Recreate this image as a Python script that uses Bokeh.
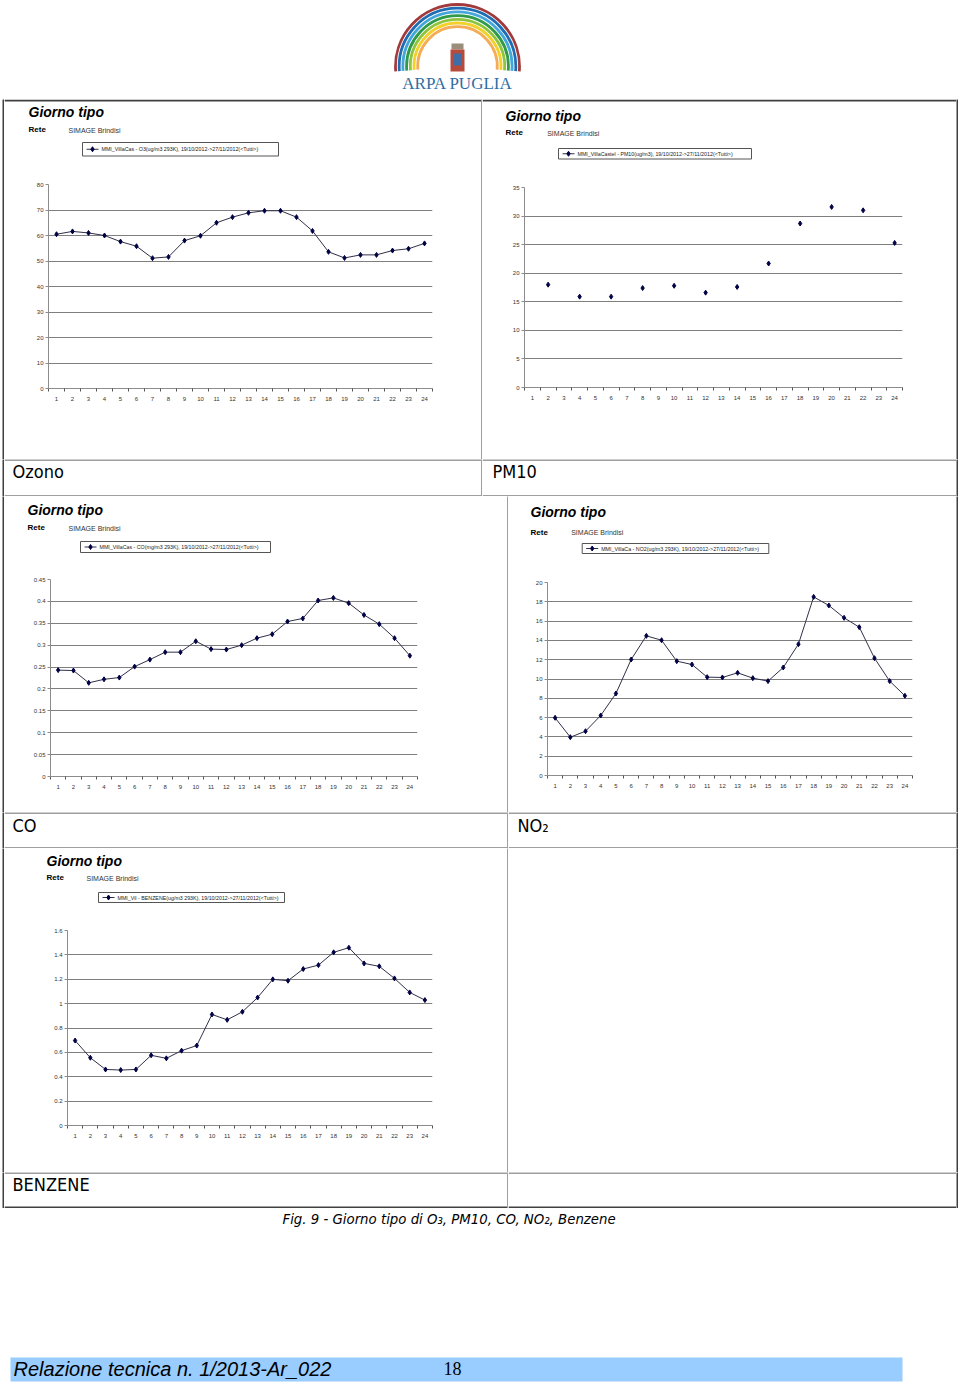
import math
from bokeh.plotting import figure
from bokeh.layouts import column, row
from bokeh.models import Range1d, FixedTicker, NumeralTickFormatter
from bokeh.embed import file_html
from bokeh.resources import INLINE
from bokeh.core.properties import value

# ---------------- data ----------------
hours = list(range(1, 25))
ozone_values = [60.5, 61.6, 61.0, 60.0, 57.6, 55.8, 51.1, 51.6, 58.0, 59.9, 65.0, 67.2,
                68.9, 69.7, 69.7, 67.2, 61.8, 53.6, 51.2, 52.4, 52.4, 54.1, 54.8, 56.9]
pm10_hours = [2, 4, 6, 8, 10, 12, 14, 16, 18, 20, 22, 24]
pm10_values = [18.0, 15.9, 15.9, 17.4, 17.8, 16.6, 17.6, 21.7, 28.7, 31.6, 31.0, 25.3]
co_values = [0.243, 0.242, 0.214, 0.222, 0.226, 0.251, 0.267, 0.284, 0.284, 0.309, 0.291, 0.290,
             0.300, 0.316, 0.325, 0.354, 0.361, 0.402, 0.408, 0.396, 0.369, 0.348, 0.316, 0.276]
no2_values = [5.98, 3.97, 4.59, 6.22, 8.50, 12.02, 14.47, 14.02, 11.85, 11.50, 10.19, 10.16,
              10.64, 10.09, 9.78, 11.19, 13.61, 18.51, 17.62, 16.34, 15.37, 12.16, 9.78, 8.26]
benzene_values = [0.697, 0.556, 0.460, 0.455, 0.460, 0.576, 0.551, 0.614, 0.656, 0.911, 0.867, 0.933,
                  1.050, 1.199, 1.188, 1.284, 1.316, 1.421, 1.459, 1.330, 1.306, 1.207, 1.092, 1.029]

ozone_yticks = [0, 10, 20, 30, 40, 50, 60, 70, 80]
pm10_yticks = [0, 5, 10, 15, 20, 25, 30, 35]
co_yticks = [0, 0.05, 0.1, 0.15, 0.2, 0.25, 0.3, 0.35, 0.4, 0.45]
no2_yticks = [0, 2, 4, 6, 8, 10, 12, 14, 16, 18, 20]
benzene_yticks = [0, 0.2, 0.4, 0.6, 0.8, 1, 1.2, 1.4, 1.6]

legend_ozone = "MMI_VillaCas - O3(ug/m3 293K), 19/10/2012->27/11/2012(<Tutti>)"
legend_pm10 = "MMI_VillaCastel - PM10(ug/m3), 19/10/2012->27/11/2012(<Tutti>)"
legend_co = "MMI_VillaCas - CO(mg/m3 293K), 19/10/2012->27/11/2012(<Tutti>)"
legend_no2 = "MMI_VillaCa - NO2(ug/m3 293K), 19/10/2012->27/11/2012(<Tutti>)"
legend_benzene = "MMI_Vil - BENZENE(ug/m3 293K), 19/10/2012->27/11/2012(<Tutti>)"

cell_labels = ["Ozono", "PM10", "CO", "NO\u2082", "BENZENE"]
caption = "Fig. 9 -  Giorno tipo di O\u2083, PM10, CO, NO\u2082, Benzene"
footer = "Relazione tecnica n. 1/2013-Ar_022"
page_number = "18"

# ---------------- styles ----------------
LINE = "#404040"
SANS = "Liberation Sans"
COND = "DejaVu Sans Condensed"
SERIF = "Liberation Serif"
SERIES_LINE = "#30304a"
SERIES_MARK = "#000045"
GRID = "#7f7f7f"
AXIS = "#8c8c8c"
BASE_K = 0.42  # baseline correction of the renderer, as a fraction of the font size


def noalign(f):
    try:
        f.frame_align = False
    except Exception:
        pass
    return f


def by(y, fs):
    """Anchor y for a text whose baseline should sit at y."""
    return y - BASE_K * fs


def blank(w, h, color="white", xr=None, yr=None):
    f = figure(width=w, height=h, toolbar_location=None, output_backend="svg",
               min_border=0, x_axis_location=None, y_axis_location=None,
               x_range=xr if xr is not None else Range1d(0, w),
               y_range=yr if yr is not None else Range1d(h, 0),
               background_fill_color=color, border_fill_color=color,
               outline_line_color=None)
    f.xgrid.visible = False
    f.ygrid.visible = False
    return noalign(f)


def bar(w, h):
    return blank(w, h, color=LINE)


def hline(f, w, y0, y1):
    f.quad(left=[0], right=[w], top=[y0], bottom=[y1], fill_color=LINE, line_color=None)


def txt(f, x, y, s, font, fs, style="normal", color="black", align="left"):
    f.text(x=[x], y=[by(y, fs)], text=[s], text_font=value(font), text_font_size=f"{fs}px",
           text_font_style=style, text_color=color, text_align=align, text_baseline="alphabetic")


def header(w, h, gx, gy, ry, sx, box, label, top_line=0):
    f = blank(w, h)
    if top_line:
        hline(f, w, 0, top_line)
    txt(f, gx, gy, "Giorno tipo", SANS, 14, "bold italic")
    txt(f, gx, ry, "Rete", SANS, 8, "bold")
    txt(f, sx, ry, "SIMAGE Brindisi", SANS, 7, color="#333333")
    l, r, t, b = box
    f.quad(left=[l], right=[r], top=[t], bottom=[b], fill_color="white", line_color="#555555", line_width=1)
    ym = (t + b) / 2
    f.line([l + 4, l + 16], [ym, ym], line_color=SERIES_LINE, line_width=1)
    f.scatter([l + 10], [ym], marker="diamond", size=5, fill_color=SERIES_MARK, line_color=SERIES_MARK)
    f.text(x=[l + 19], y=[ym], text=[label], text_font=value(SANS), text_font_size="5.3px",
           text_color="#222222", text_baseline="middle")
    return f


def chart(w, h, L, R, T, B, yticks, xs, ys, connect=True):
    p = figure(width=w, height=h, toolbar_location=None, output_backend="svg",
               min_border_left=L, min_border_right=R, min_border_top=T, min_border_bottom=B,
               x_range=Range1d(0.5, 24.5), y_range=Range1d(yticks[0], yticks[-1]),
               background_fill_color="white", border_fill_color="white", outline_line_color=None)
    noalign(p)
    p.xgrid.visible = False
    p.ygrid.grid_line_color = GRID
    p.ygrid.grid_line_width = 1
    p.yaxis.ticker = FixedTicker(ticks=yticks)
    p.yaxis.formatter = NumeralTickFormatter(format="0.[00]")
    p.xaxis.ticker = FixedTicker(ticks=hours, minor_ticks=[hh - 0.5 for hh in hours] + [24.5])
    for ax in (p.xaxis[0], p.yaxis[0]):
        ax.axis_line_color = AXIS
        ax.axis_line_width = 1
        ax.major_label_text_font = SANS
        ax.major_label_text_font_size = "6px"
        ax.major_label_text_color = "#333333"
    p.yaxis.major_tick_in = 0
    p.yaxis.major_tick_out = 3
    p.yaxis.major_tick_line_color = AXIS
    p.yaxis.minor_tick_line_color = None
    p.yaxis.major_label_standoff = 2
    p.xaxis.major_tick_in = 0
    p.xaxis.major_tick_out = 0
    p.xaxis.major_tick_line_color = None
    p.xaxis.minor_tick_in = 0
    p.xaxis.minor_tick_out = 3
    p.xaxis.minor_tick_line_color = "#555555"
    p.xaxis.major_label_standoff = 5
    if connect:
        p.line(xs, ys, line_color=SERIES_LINE, line_width=1)
    p.scatter(xs, ys, marker="diamond", size=5, fill_color=SERIES_MARK, line_color=SERIES_MARK)
    return p


def label_cell(w, h, x, y, s, bottom_line=1):
    f = blank(w, h)
    hline(f, w, 0, 1)
    hline(f, w, h - bottom_line, h)
    if s:
        txt(f, x, y, s, COND, 18)
    return f


# ---------------- logo (y measured upward from the logo's bottom edge) ----------------
logo = blank(960, 99, xr=Range1d(0, 960), yr=Range1d(0, 99))
arc_radii = [62, 58.3, 54.6, 50.9, 47.2, 43.5, 39.8]
arc_colors = ["#a23a3c", "#1f6db3", "#45a6dc", "#2f9a48", "#8fc43f", "#f2d12b", "#f4ad55"]
logo.arc(x=[457] * 7, y=[33] * 7, radius=arc_radii, start_angle=-0.08, end_angle=math.pi + 0.08,
         line_color=arc_colors, line_width=2.8)
logo.quad(left=[451], right=[463], top=[56], bottom=[50], fill_color="#9a8f7a", line_color=None)
logo.quad(left=[450], right=[464], top=[50], bottom=[28], fill_color="#b84a3c", line_color=None)
logo.quad(left=[453.5], right=[460.5], top=[46], bottom=[34], fill_color="#3d6ea8", line_color=None)
logo.text(x=[457], y=[9 + BASE_K * 17], text=["ARPA PUGLIA"], text_font=value(SERIF), text_font_size="17px",
          text_color="#2f6ea5", text_align="center", text_baseline="alphabetic")

# ---------------- cells ----------------
h_oz = header(477, 73, 24, 18.5, 33.5, 64, (78, 274, 43, 56.5), legend_ozone, top_line=2)
c_oz = chart(477, 287, 44, 49, 12, 71, ozone_yticks, hours, ozone_values)
h_pm = header(474, 73, 23, 22, 36.5, 64.7, (76, 269, 49, 59.5), legend_pm10, top_line=2)
c_pm = chart(474, 287, 42, 54, 15, 72, pm10_yticks, pm10_hours, pm10_values, connect=False)

h_co = header(503, 70, 23, 19.5, 34.5, 64, (76, 266, 45, 56), legend_co)
c_co = chart(503, 246, 46, 90, 13, 36, co_yticks, hours, co_values)
h_no = header(448, 70, 22, 21.5, 39, 62.7, (73.7, 260.3, 47, 57), legend_no2)
c_no = chart(448, 246, 39, 44, 16, 37, no2_yticks, hours, no2_values)

h_bz = header(503, 67, 42, 18, 32.5, 82, (94, 280, 44, 54), legend_benzene)
c_bz = chart(503, 257, 63, 75, 15, 47, benzene_yticks, hours, benzene_values)

l_oz = label_cell(477, 37, 8, 20, cell_labels[0])
l_pm = label_cell(474, 37, 10, 20, cell_labels[1])
l_co = label_cell(503, 36, 8, 21, cell_labels[2])
l_no = label_cell(448, 36, 9, 21, cell_labels[3])
l_bz = label_cell(503, 36, 8, 20, cell_labels[4], bottom_line=2)
l_empty = label_cell(448, 36, 0, 0, "", bottom_line=2)

# ---------------- bottom ----------------
bottom = blank(960, 178, xr=Range1d(0, 960), yr=Range1d(1386, 1208))
txt(bottom, 282, 1224, caption, COND, 14.8, "italic")
bottom.quad(left=[10], right=[902], top=[1357], bottom=[1381], fill_color="#99ccff", line_color=None)
txt(bottom, 13, 1377, footer, SANS, 20, "italic")
txt(bottom, 443, 1376, page_number, SERIF, 18)


def table_row(h, a, b, div=1):
    return row(blank(2, h), bar(2, h), a, bar(div, h), b, bar(2, h), blank(2, h))


layout = column(
    logo,
    table_row(360, column(h_oz, c_oz), column(h_pm, c_pm)),
    table_row(37, l_oz, l_pm),
    table_row(316, column(h_co, c_co), column(h_no, c_no)),
    table_row(36, l_co, l_no),
    table_row(324, column(h_bz, c_bz), blank(448, 324)),
    table_row(36, l_bz, l_empty),
    bottom,
)

open("out.html", "w").write(file_html(layout, INLINE, title="Giorno tipo"))
